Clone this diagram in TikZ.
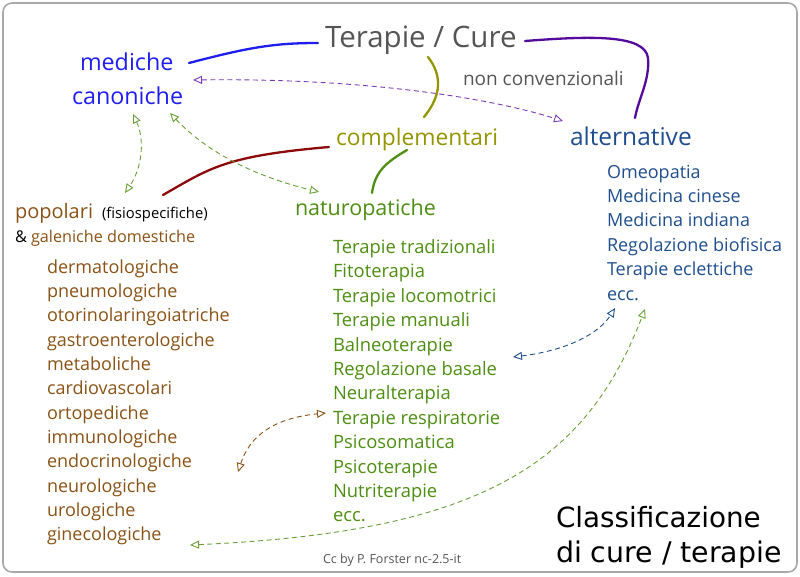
\documentclass[tikz,border=0pt]{standalone}
\usepackage{fontspec}
\setmainfont{Open Sans}
\newfontfamily\titlefont{DejaVu Sans}
\usetikzlibrary{arrows.meta}
\definecolor{cgrey}{HTML}{555555}
\definecolor{cblue}{HTML}{1E1EF0}
\definecolor{colive}{HTML}{949400}
\definecolor{cdblue}{HTML}{1F4E8E}
\definecolor{cbrown}{HTML}{8A5214}
\definecolor{cgreen}{HTML}{4E8E12}
\definecolor{cpurple}{HTML}{560A9C}
\definecolor{cpurpled}{HTML}{7A3AB4}
\definecolor{cdred}{HTML}{8E0A0A}
\definecolor{cframe}{HTML}{A8A8A8}
\tikzset{
  txt/.style={anchor=base west, inner sep=0pt, outer sep=0pt},
  lst/.style={txt, font=\fontsize{18}{21}\selectfont},
  hdr/.style={txt, font=\fontsize{23.3}{27}\selectfont},
  sline/.style={line width=2.3pt, line cap=round},
  darr/.style={line width=0.9pt, dash pattern=on 5pt off 3.5pt,
    {Triangle[open,length=9pt,width=8pt,line width=0.9pt]}-{Triangle[open,length=9pt,width=8pt,line width=0.9pt]}}
}
\begin{document}
\begin{tikzpicture}[x=1pt,y=-1pt]
\useasboundingbox (0,0) rectangle (800,576);
\draw[rounded corners=9pt, draw=cframe, line width=1.6pt] (3,3) rectangle (797,572);

% headers
\node[txt, text=cgrey, font=\fontsize{29.5}{33}\selectfont] (title) at (325,47) {Terapie / Cure};
\node[hdr, text=cblue] (mediche) at (80,70) {mediche};
\node[hdr, text=cblue] (canoniche) at (72,104) {canoniche};
\node[txt, text=cgrey, font=\fontsize{19}{23}\selectfont] (nonconv) at (463,85) {non convenzionali};
\node[hdr, text=colive, font=\fontsize{22.8}{27}\selectfont] (compl) at (336,145) {complementari};
\node[hdr, text=cdblue, font=\fontsize{24.5}{28}\selectfont] (altern) at (570,145) {alternative};
\node[txt, text=cbrown, font=\fontsize{20}{24}\selectfont] (popolari) at (15,218) {popolari};
\node[txt, text=black, font=\fontsize{14.8}{17}\selectfont] (fisio) at (102,218) {(fisiospecifiche)};
\node[txt, font=\fontsize{16.2}{19}\selectfont] (galen) at (15,242) {\textcolor{black}{\&} \textcolor{cbrown}{galeniche domestiche}};
\node[txt, text=cgreen, font=\fontsize{21.5}{25}\selectfont] (naturo) at (295,215) {naturopatiche};

% brown list
\foreach \t [count=\i from 0] in {dermatologiche,pneumologiche,otorinolaringoiatriche,gastroenterologiche,metaboliche,cardiovascolari,ortopediche,immunologiche,endocrinologiche,neurologiche,urologiche,ginecologiche}
  \node[lst, text=cbrown] (b\i) at (47,273.3+24.3*\i) {\t};

% green list
\foreach \t [count=\i from 0] in {Terapie tradizionali,Fitoterapia,Terapie locomotrici,Terapie manuali,Balneoterapie,Regolazione basale,Neuralterapia,Terapie respiratorie,Psicosomatica,Psicoterapie,Nutriterapie,ecc.}
  \node[lst, text=cgreen, font=\fontsize{18.4}{21}\selectfont] (g\i) at (333,253.5+24.4*\i) {\t};

% blue list
\foreach \t [count=\i from 0] in {Omeopatia,Medicina cinese,Medicina indiana,Regolazione biofisica,Terapie eclettiche,ecc.}
  \node[lst, text=cdblue] (a\i) at (607,178+24.4*\i) {\t};

\node[txt, font=\titlefont\fontsize{27.8}{31}\selectfont] (cl1) at (556,527) {Classificazione};
\node[txt, font=\titlefont\fontsize{28.4}{31}\selectfont] (cl2) at (556,562) {di cure / terapie};
\node[txt, text=cgrey, font=\fontsize{12.5}{15}\selectfont] (cc) at (323,563) {Cc by P. Forster nc-2.5-it};

% connector end points
\coordinate (pMed) at (189,63);
\coordinate (pTitL) at (318,43);
\coordinate (pTitR) at (525,41);
\coordinate (pAlt) at (635,118);
\coordinate (pTitB) at (428,57);
\coordinate (pComB) at (424,117);
\coordinate (pPop) at (163,195);
\coordinate (pComL) at (329,147);
\coordinate (pNat) at (372,193);
\coordinate (pComR) at (407,150);

% solid connectors
\draw[sline, cblue] (pMed) .. controls (250,47) and (275,43) .. (pTitL);
\draw[sline, cpurple] (pTitR) .. controls (590,36) and (645,34) .. (648,58) .. controls (650,80) and (638,100) .. (pAlt);
\draw[sline, colive] (pTitB) .. controls (442,75) and (442,95) .. (pComB);
\draw[sline, cdred] (pPop) .. controls (210,168) and (225,156) .. (pComL);
\draw[sline, cgreen] (pNat) .. controls (375,172) and (385,163) .. (pComR);

% dashed arrows
\coordinate (dA1) at (193,80);
\coordinate (dA2) at (563,121);
\draw[darr, cpurpled] (dA1) .. controls (350,78) and (480,95) .. (dA2);
\coordinate (dB1) at (133,114);
\coordinate (dB2) at (125,193);
\draw[darr, cgreen!85!white] (dB1) .. controls (145,140) and (142,168) .. (dB2);
\coordinate (dC1) at (170,113);
\coordinate (dC2) at (319,192);
\draw[darr, cgreen!85!white] (dC1) .. controls (205,150) and (250,175) .. (dC2);
\coordinate (dD1) at (238,472);
\coordinate (dD2) at (326,413);
\draw[darr, cbrown] (dD1) .. controls (250,435) and (275,418) .. (dD2);
\coordinate (dE1) at (513,357);
\coordinate (dE2) at (615,308);
\draw[darr, cdblue] (dE1) .. controls (570,350) and (600,332) .. (dE2);
\coordinate (dF1) at (190,545);
\coordinate (dF2) at (645,309);
\draw[darr, cgreen!85!white] (dF1) .. controls (480,532) and (585,465) .. (dF2);
\end{tikzpicture}
\end{document}
